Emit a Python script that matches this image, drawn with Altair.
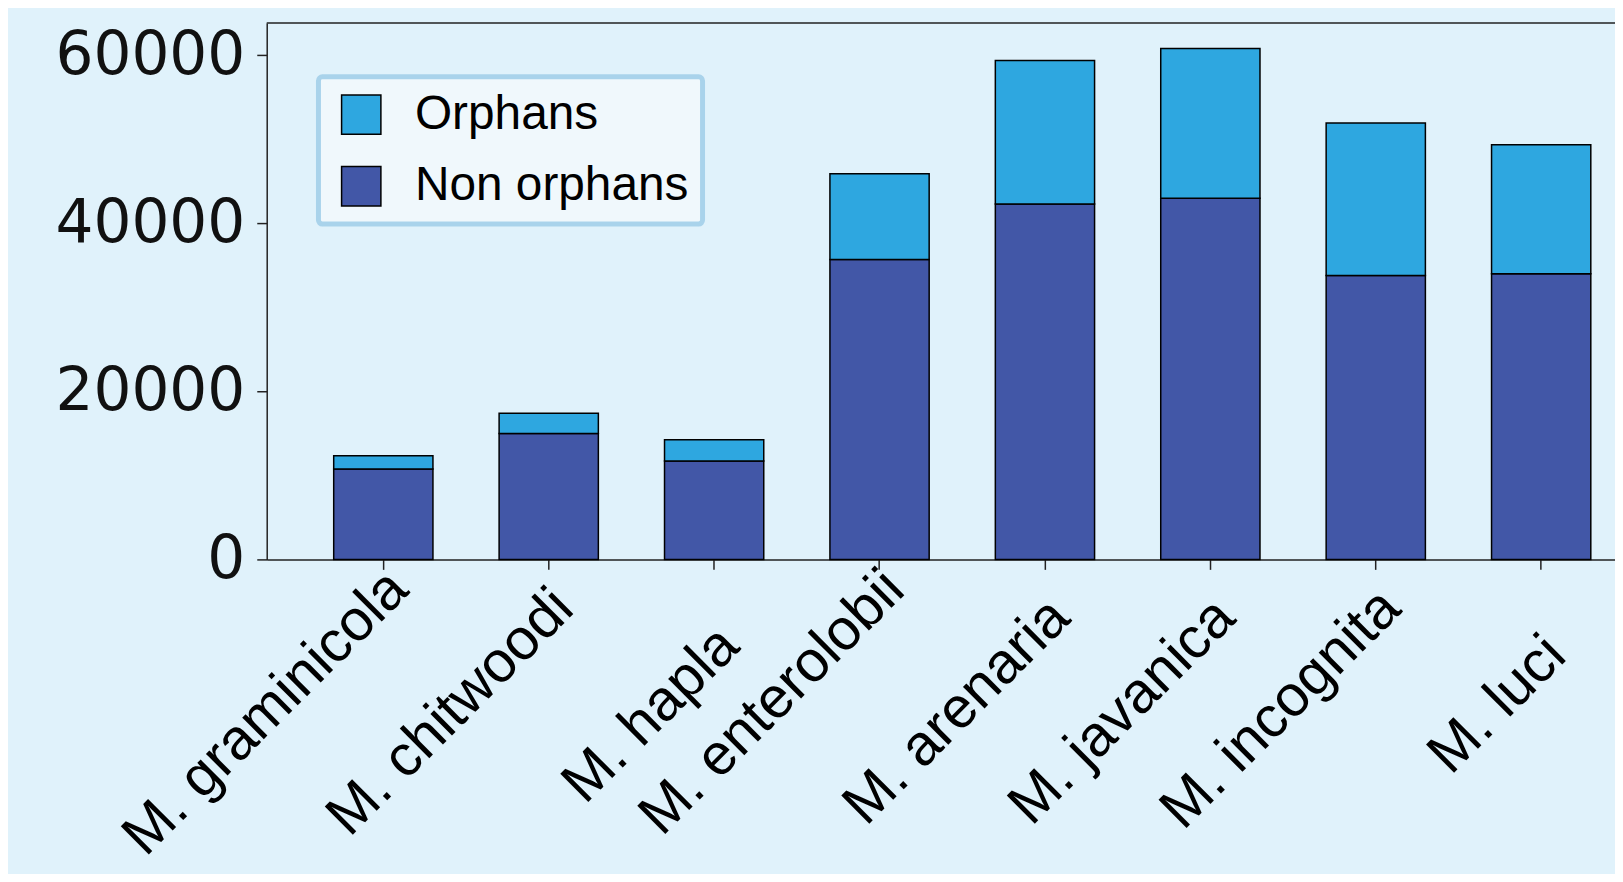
import altair as alt
import pandas as pd

species = ["M. graminicola", "M. chitwoodi", "M. hapla", "M. enterolobii",
           "M. arenaria", "M. javanica", "M. incognita", "M. luci"]
non_orphans = [10750, 15000, 11700, 35700, 42300, 43000, 33800, 34000]
orphans = [1600, 2400, 2550, 10200, 17100, 17800, 18150, 15350]
groups = ["Orphans", "Non orphans"]
colors = ["#2ea7e0", "#4257a7"]
y_ticks = [0, 20000, 40000, 60000]

rows = []
for i, s in enumerate(species):
    rows.append({"species": s, "group": "Non orphans", "count": non_orphans[i], "order": 0})
    rows.append({"species": s, "group": "Orphans", "count": orphans[i], "order": 1})
df = pd.DataFrame(rows)
labels_df = pd.DataFrame({"species": species})
one = pd.DataFrame({"k": [0]})

AX = "#222222"
x_scale = alt.Scale(domain=species, range=[0, 1398], paddingInner=0.4, paddingOuter=0.405)
x_axis = alt.Axis(title=None, labels=False, ticks=True, tickSize=10, tickWidth=1.5,
                  tickColor=AX, domainColor=AX, domainWidth=1.5)

bars = alt.Chart(df).mark_bar(stroke="black", strokeWidth=1.5, opacity=1).encode(
    x=alt.X("species:N", sort=species, scale=x_scale, axis=x_axis),
    y=alt.Y("count:Q", stack="zero", scale=alt.Scale(domain=[0, 63840], nice=False),
            axis=alt.Axis(values=y_ticks, title=None, grid=False, labelFont="DejaVu Sans",
                          labelFontSize=60, labelColor="#111111", tickSize=10, tickWidth=1.5,
                          tickColor=AX, domainColor=AX, domainWidth=1.5, labelPadding=12,
                          labelOverlap=False, labelLimit=0, format="d")),
    color=alt.Color("group:N", scale=alt.Scale(domain=groups, range=colors),
                    legend=alt.Legend(title=None, orient="none", legendX=52, legendY=54,
                                      direction="vertical", symbolType="square", symbolSize=1560,
                                      symbolStrokeColor="black", symbolStrokeWidth=1.5,
                                      symbolOpacity=1, symbolOffset=5, labelFont="Liberation Sans",
                                      labelFontSize=48, labelColor="black", labelOffset=30,
                                      rowPadding=24, padding=14, fillColor="#f0f8fc",
                                      strokeColor="#a9d3eb", cornerRadius=4, labelLimit=0)),
    order=alt.Order("order:Q"),
)

labels = alt.Chart(labels_df).mark_text(
    align="right", baseline="middle", angle=315, font="Liberation Sans", fontSize=58,
    color="black",
    dx=alt.ExprRef("25 + 6.67*length(datum.species)"),
    dy=alt.ExprRef("-3 - 6.67*length(datum.species)"),
).encode(
    x=alt.X("species:N", sort=species, scale=x_scale, axis=x_axis),
    y=alt.value(712),
    text="species:N",
)

top = alt.Chart(one).mark_rule(color=AX, strokeWidth=1.5).encode(
    x=alt.value(0), x2=alt.value(1398), y=alt.value(0)
)

chart = alt.layer(bars, labels, top).properties(
    width=1355, height=539,
    padding={"left": 260, "top": 13, "right": 0, "bottom": 314},
    autosize=alt.AutoSizeParams(type="none"),
    background="#e0f2fb",
).configure_view(stroke=None).configure_legend(strokeWidth=5)

chart.save("out.html", embed_options={"renderer": "svg", "actions": False})
